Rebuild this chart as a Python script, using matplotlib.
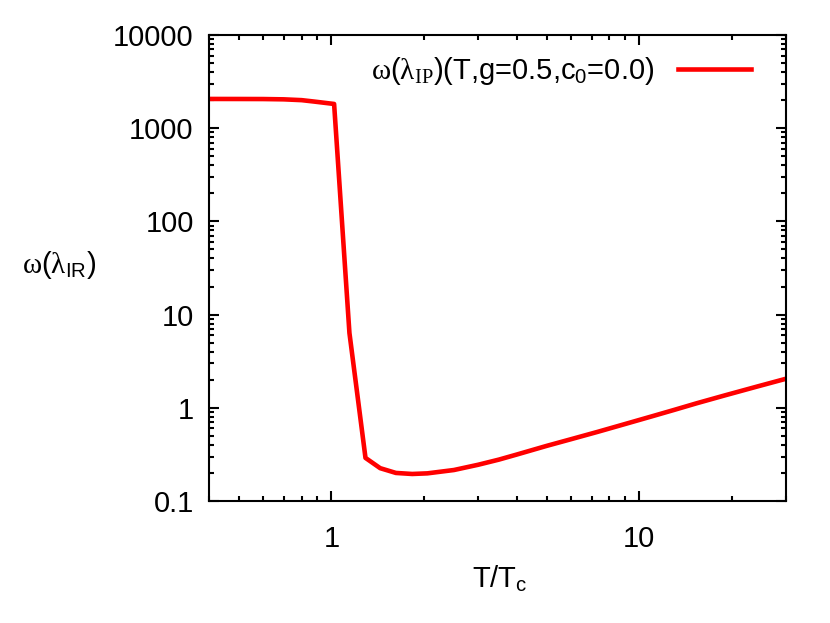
import numpy as np
import matplotlib
matplotlib.use("Agg")
import matplotlib.pyplot as plt
from matplotlib.ticker import LogLocator, FixedLocator, FixedFormatter, NullFormatter

plt.rcParams['font.family'] = ['Liberation Sans', 'DejaVu Sans']
plt.rcParams['mathtext.fontset'] = 'custom'
plt.rcParams['mathtext.rm'] = 'Liberation Serif'
plt.rcParams['mathtext.it'] = 'Liberation Serif:italic'
plt.rcParams['mathtext.sf'] = 'Liberation Sans'

# ── data ─────────────────────────────────────────────────────
t_over_tc = [0.4, 0.5, 0.6, 0.7, 0.8, 0.88, 1.02, 1.144, 1.29, 1.44, 1.62, 1.83,
             2.05, 2.5, 3.0, 3.5, 4.0, 5.0, 6.0, 7.3, 9.0, 11.0, 13.0, 15.4,
             19.0, 24.0, 30.0]
omega_ir = [2060, 2058, 2055, 2040, 2000, 1930, 1820, 6.35, 0.29, 0.225, 0.20, 0.195,
            0.198, 0.215, 0.245, 0.278, 0.315, 0.39, 0.46, 0.55, 0.67, 0.81, 0.95, 1.12,
            1.36, 1.68, 2.05]

y_ticks = [0.1, 1, 10, 100, 1000, 10000]
y_labels = ["0.1", "1", "10", "100", "1000", "10000"]
x_ticks = [1, 10]
x_labels = ["1", "10"]

fig = plt.figure(figsize=(8.3, 6.23), dpi=100, facecolor="white")
ax = fig.add_axes([209/830, 122/623, 577/830, 466/623])

legend_label = (r'$\mathrm{\omega}$(' + r'$\mathrm{\lambda_{IP}}$'
                + r')(T,g=0.5,c$_{\mathsf{0}}$=0.0)')
ax.plot(t_over_tc, omega_ir, "-", color="#FF0000", lw=3.3, label=legend_label)

ax.set_xscale("log")
ax.set_yscale("log")
ax.set_xlim(0.4, 30)
ax.set_ylim(0.1, 10000)

ax.yaxis.set_major_locator(FixedLocator(y_ticks))
ax.yaxis.set_major_formatter(FixedFormatter(y_labels))
ax.yaxis.set_minor_locator(LogLocator(base=10, subs=np.arange(2, 10)))
ax.yaxis.set_minor_formatter(NullFormatter())
ax.xaxis.set_major_locator(FixedLocator(x_ticks))
ax.xaxis.set_major_formatter(FixedFormatter(x_labels))
ax.xaxis.set_minor_locator(LogLocator(base=10, subs=np.arange(2, 10)))
ax.xaxis.set_minor_formatter(NullFormatter())

ax.tick_params(which="both", direction="in", top=True, right=True,
               width=1.5, labelsize=21)
ax.tick_params(which="major", length=7)
ax.tick_params(which="minor", length=3.5)
ax.tick_params(axis="y", which="major", pad=11)
ax.tick_params(axis="x", which="major", pad=17)
for s in ax.spines.values():
    s.set_linewidth(1.5)

ax.set_xlabel(r"T/T$_{\mathsf{c}}$", fontsize=21)
ax.xaxis.set_label_coords(0.504, -0.135)
ax.set_ylabel(r"$\mathrm{\omega}$($\mathrm{\lambda}$$_{\mathsf{IR}}$)",
              fontsize=21, rotation=0, ha="center", va="center")
ax.yaxis.set_label_coords(-0.26, 0.506)

ax.legend(loc="upper right", frameon=False, fontsize=21, markerfirst=False,
          handlelength=2.5, handletextpad=0.8, borderaxespad=0.3,
          bbox_to_anchor=(0.975, 1.0))

fig.savefig("out.png", dpi=100, facecolor="white")
